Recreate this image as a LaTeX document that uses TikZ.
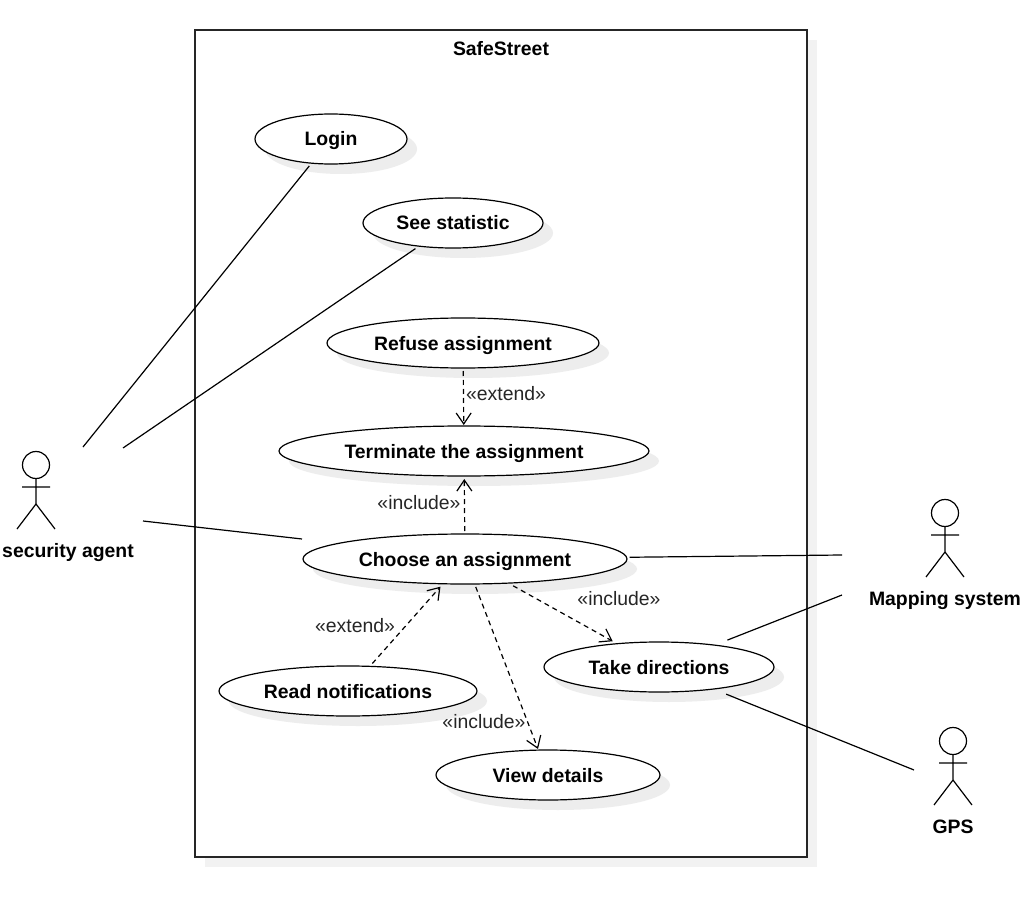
\documentclass[tikz,border=0pt]{standalone}
\usepackage{fontspec}
\setmainfont{Liberation Sans}
\usepackage{tikz}
\usetikzlibrary{arrows.meta,fit,positioning,shadows,shapes.geometric}

\begin{document}
\begin{tikzpicture}[x=1pt,y=-1pt]
	\tikzstyle{usecase}=[ellipse, draw=black, fill=white, line width=1.2pt, minimum height=50pt, inner sep=0pt, outer sep=3pt, text height=14pt, text depth=0pt, font=\fontsize{19.4}{24}\selectfont\bfseries, drop shadow={shadow xshift=10pt, shadow yshift=-10pt, fill=black!7, opacity=1}]
	\tikzstyle{system}=[rectangle, draw=black!85, fill=white, line width=1.3pt, minimum width=612pt, minimum height=827pt, inner sep=0pt, drop shadow={shadow xshift=10pt, shadow yshift=-10pt, fill=black!5, opacity=1}]
	\tikzstyle{connect}=[line width=1.2pt]
	\tikzstyle{depend}=[line width=1.2pt, dash pattern=on 5pt off 4pt, -{Straight Barb[length=11pt, width=15pt, line width=1.2pt]}]
	\tikzstyle{stereo}=[inner sep=0pt, text=black!85, font=\fontsize{19.4}{24}\selectfont]
	\tikzstyle{title}=[inner sep=0pt, text height=14pt, text depth=0pt, font=\fontsize{19.4}{24}\selectfont\bfseries]
	\tikzset{stickman/.pic={
		\draw[line width=1.2pt] (0,-13) circle (13.5);
		\draw[line width=1.2pt] (0,0.5) -- (0,26) (-14,9) -- (14,9) (-19,51) -- (0,26) -- (19,51);
	}}
	\useasboundingbox (0,0) rectangle (1023,904);
	\node[system] (box) at (501,443.5) {};
	\node[title] (boxname) at (501,49) {SafeStreet};
	\node[usecase, minimum width=152pt] (login) at (331,139) {Login};
	\node[usecase, minimum width=180pt] (statistic) [below=28pt of login, xshift=122pt] {See statistic};
	\node[usecase, minimum width=272pt] (refuse) [below=64pt of statistic, xshift=10pt] {Refuse assignment};
	\node[usecase, minimum width=370pt] (terminate) [below=52pt of refuse, xshift=1pt] {Terminate the assignment};
	\node[usecase, minimum width=324pt] (choose) [below=52pt of terminate, xshift=1pt] {Choose an assignment};
	\node[usecase, minimum width=258pt] (notifications) [below=76pt of choose, xshift=-117pt] {Read notifications};
	\node[usecase, minimum width=230pt] (directions) [below=52pt of choose, xshift=194pt] {Take directions};
	\node[usecase, minimum width=224pt] (details) [below=52pt of directions, xshift=-111pt] {View details};
	% actors
	\pic (agent) at (36,478) {stickman};
	\pic (mapping) at (945,526) {stickman};
	\pic (gps) at (953,754) {stickman};
	\node[title] (agentname) at (68,550) {security agent};
	\node[title] (mappingname) at (945,598) {Mapping system};
	\node[title] (gpsname) at (953,826) {GPS};
	% free ends
	\coordinate (agentA) at (83,447);
	\coordinate (agentB) at (123,448);
	\coordinate (agentC) at (143,521);
	\coordinate (chooseW) at (302,539);
	\coordinate (mapA) at (842,555);
	\coordinate (mapB) at (842,595);
	\coordinate (gpsA) at (914,770);
	\path (agentA) edge [connect] (login)
	(agentB) edge [connect] (statistic)
	(agentC) edge [connect] (chooseW)
	(mapA) edge [connect] (choose)
	(mapB) edge [connect, shorten >=8pt] (directions)
	(gpsA) edge [connect, shorten >=8pt] (directions);
	\path (refuse) edge [depend, shorten >=-2pt] (terminate)
	(choose) edge [depend] (terminate)
	(notifications) edge [depend] (choose)
	(choose) edge [depend] (directions)
	(choose) edge [depend, shorten >=-2pt] (details);
	\node[stereo] (extendA) at (506,394) {«extend»};
	\node[stereo] (includeA) at (419,503) {«include»};
	\node[stereo] (extendB) at (355,626) {«extend»};
	\node[stereo] (includeB) at (619,599) {«include»};
	\node[stereo] (includeC) at (484,722) {«include»};
\end{tikzpicture}
\end{document}
